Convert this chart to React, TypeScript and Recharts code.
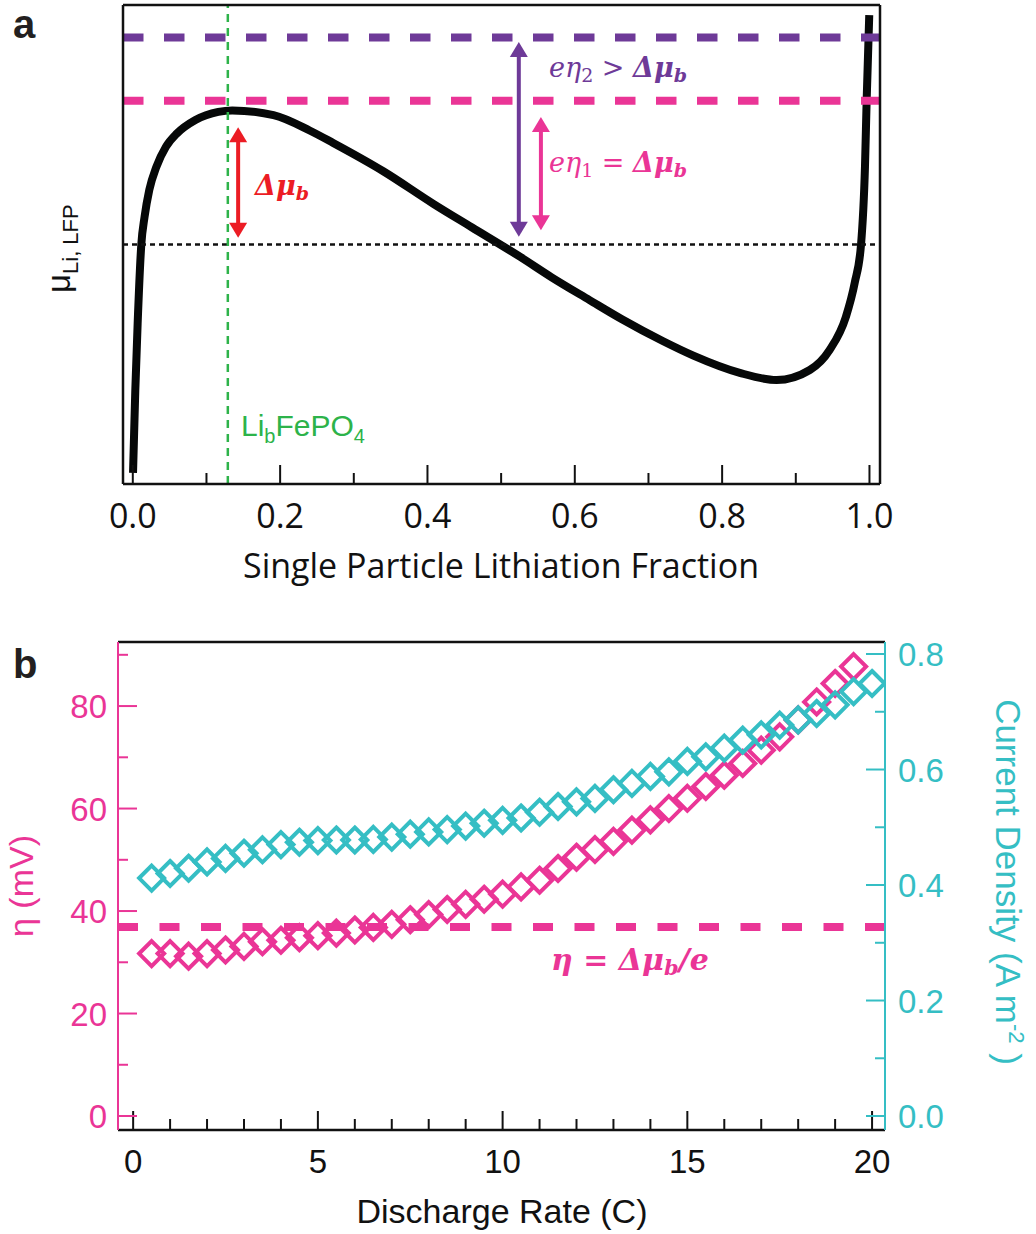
import React from 'react';
import { ComposedChart, Line, XAxis, YAxis, ReferenceLine } from 'recharts';

// ---------- Panel a: Li chemical potential of a single LFP particle ----------
const lithiationFraction = [
  0.0003, 0.0034, 0.0066, 0.0115, 0.016, 0.0224, 0.032, 0.045, 0.06, 0.085, 0.116, 0.135, 0.191, 0.24,
  0.272, 0.34, 0.408, 0.46, 0.526, 0.568, 0.62, 0.664, 0.72, 0.761, 0.824, 0.874, 0.919, 0.946,
  0.968, 0.98, 0.9885, 0.9939, 0.9962, 0.9997,
];
const muLiLFP = [
  2.3, 19.6, 33.6, 49.9, 55.8, 61.4, 66.2, 70.4, 73.2, 76.0, 77.7, 78.0, 77.0, 73.8,
  71.2, 65.3, 58.5, 53.6, 47.4, 43.2, 38.4, 34.4, 29.8, 26.8, 23.2, 21.7, 23.8, 28.0,
  34.9, 42.0, 49.9, 66.2, 80.2, 97.9,
];
const fractionTicks = [0, 0.1, 0.2, 0.3, 0.4, 0.5, 0.6, 0.7, 0.8, 0.9, 1.0];
const fractionMajorTicks = [0, 0.2, 0.4, 0.6, 0.8, 1.0];
const fractionDomain = [-0.0133, 1.0143];
const muDomain = [0, 100];

const muOverpotential2 = 93.2; // e·η2 level
const muBarrierTop = 80.0; // e·η1 = Δμb level
const muEquilibrium = 50.0; // equilibrium potential
const spinodalFraction = 0.129; // Li_b FePO4

const barrierArrow = { x: 0.143, from: 51.4, to: 74.5 };
const eta2Arrow = { x: 0.524, from: 51.6, to: 92.3 };
const eta1Arrow = { x: 0.554, from: 53.0, to: 76.6 };

// ---------- Panel b: overpotential and current density vs discharge rate ----------
const dischargeRate = [
  0.5, 1, 1.5, 2, 2.5, 3, 3.5, 4, 4.5, 5, 5.5, 6, 6.5, 7, 7.5, 8, 8.5, 9, 9.5, 10,
  10.5, 11, 11.5, 12, 12.5, 13, 13.5, 14, 14.5, 15, 15.5, 16, 16.5, 17, 17.5, 18, 18.5, 19, 19.5, 20,
];
const etaMV = [
  31.7, 31.7, 31.2, 31.7, 32.4, 33.1, 34.0, 34.3, 34.8, 35.2, 35.7, 36.3, 36.8, 37.4, 38.3, 39.3,
  40.3, 41.3, 42.3, 43.3, 44.7, 46.0, 48.3, 50.5, 52.0, 53.6, 55.8, 57.8, 60.0, 62.0, 64.3, 66.5,
  68.8, 71.4, 74.0, 77.3, 80.8, 84.4, 87.7,
];
const currentDensity = [
  0.412, 0.42, 0.429, 0.44, 0.446, 0.455, 0.461, 0.47, 0.474, 0.477, 0.478, 0.478, 0.479, 0.483,
  0.488, 0.492, 0.496, 0.502, 0.507, 0.512, 0.516, 0.526, 0.536, 0.544, 0.55, 0.565, 0.576, 0.588,
  0.596, 0.614, 0.622, 0.637, 0.651, 0.66, 0.677, 0.686, 0.697, 0.712, 0.735, 0.749,
];
const etaBarrier = 36.9; // η = Δμb / e
const rateTicks = [0, 1, 2, 3, 4, 5, 6, 7, 8, 9, 10, 11, 12, 13, 14, 15, 16, 17, 18, 19, 20];
const rateMajorTicks = [0, 5, 10, 15, 20];
const etaTicks = [0, 10, 20, 30, 40, 50, 60, 70, 80, 90];
const etaMajorTicks = [0, 20, 40, 60, 80];
const jTicks = [0, 0.1, 0.2, 0.3, 0.4, 0.5, 0.6, 0.7, 0.8];
const jMajorTicks = [0, 0.2, 0.4, 0.6, 0.8];
const rateDomain = [-0.41, 20.35];
const etaDomain = [-2.73, 92.5];
const jDomain = [-0.0242, 0.8208];

const PINK = '#EA3596';
const CYAN = '#35BEC4';
const PURPLE = '#6E3A98';
const RED = '#EC1C24';
const GREEN = '#2DB34A';

const SANS = '"Liberation Sans", Arial, sans-serif';
const MYRIAD = '"Open Sans", sans-serif';
const MATH = '"DejaVu Serif", serif';

const curveRows = lithiationFraction.map((f, i) => ({ f, mu: muLiLFP[i] }));
const etaRows = etaMV.map((v, i) => ({ rate: dischargeRate[i], eta: v }));
const jRows = currentDensity.map((v, i) => ({ rate: dischargeRate[i], j: v }));

const isIn = (list: number[], v: number) => list.some((m) => Math.abs(m - v) < 1e-9);

// Inward ticks with labels for a bottom axis
const bottomTick =
  (majors: number[], fmt: (v: number) => string, font: string, size: number, color: string, labelDy: number) =>
  (props: any) => {
    const { x, y, payload } = props;
    const major = isIn(majors, payload.value);
    return (
      <g>
        <line x1={x} y1={y} x2={x} y2={y - (major ? 19 : 11)} stroke={color} strokeWidth={2} />
        {major && (
          <text x={x} y={y + labelDy} textAnchor="middle" fontFamily={font} fontSize={size} fill={color}>
            {fmt(payload.value)}
          </text>
        )}
      </g>
    );
  };

const sideTick =
  (side: 'left' | 'right', majors: number[], fmt: (v: number) => string, color: string) =>
  (props: any) => {
    const { x, y, payload } = props;
    const major = isIn(majors, payload.value);
    const dir = side === 'left' ? 1 : -1;
    return (
      <g>
        <line x1={x} y1={y} x2={x + dir * (major ? 19 : 10)} y2={y} stroke={color} strokeWidth={2} />
        {major && (
          <text
            x={side === 'left' ? x - 11 : x + 13}
            y={y + 12}
            textAnchor={side === 'left' ? 'end' : 'start'}
            fontFamily={SANS}
            fontSize={33}
            fill={color}
          >
            {fmt(payload.value)}
          </text>
        )}
      </g>
    );
  };

// Vertical double-headed arrow
const doubleArrow = (color: string) => (props: any) => {
  const { x1, y1, y2 } = props;
  const head = 15;
  const half = 9;
  const top = Math.min(y1, y2);
  const bot = Math.max(y1, y2);
  return (
    <g>
      <line x1={x1} y1={top + head - 1} x2={x1} y2={bot - head + 1} stroke={color} strokeWidth={4} />
      <polygon points={`${x1},${top} ${x1 - half},${top + head} ${x1 + half},${top + head}`} fill={color} />
      <polygon points={`${x1},${bot} ${x1 - half},${bot - head} ${x1 + half},${bot - head}`} fill={color} />
    </g>
  );
};

const diamondDot = (color: string) => (props: any) => {
  const { cx, cy, index } = props;
  if (cx == null || cy == null) return <g key={`e-${index}`} />;
  const r = 12.5;
  return (
    <path
      key={`d-${index}`}
      d={`M${cx},${cy - r} L${cx + r},${cy} L${cx},${cy + r} L${cx - r},${cy} Z`}
      fill="none"
      stroke={color}
      strokeWidth={4}
    />
  );
};

function PanelA() {
  return (
    <ComposedChart
      width={1036}
      height={600}
      data={curveRows}
      margin={{ top: 5, right: 156, bottom: 76, left: 83 }}
    >
      <XAxis
        dataKey="f"
        type="number"
        domain={fractionDomain}
        allowDataOverflow
        ticks={fractionTicks}
        interval={0}
        height={40}
        tickSize={0}
        tickMargin={0}
        tickLine={false}
        axisLine={{ stroke: '#111', strokeWidth: 2.5 }}
        tick={bottomTick(fractionMajorTicks, (v) => v.toFixed(1), MYRIAD, 34, '#111', 44)}
      />
      <YAxis
        type="number"
        domain={muDomain}
        allowDataOverflow
        width={40}
        tick={false}
        tickLine={false}
        axisLine={{ stroke: '#111', strokeWidth: 2.5 }}
      />
      <Line
        dataKey="mu"
        type="monotone"
        stroke="#060808"
        strokeWidth={8}
        dot={false}
        isAnimationActive={false}
      />
      <ReferenceLine y={muEquilibrium} stroke="#111" strokeWidth={2.5} strokeDasharray="5 4" />
      <ReferenceLine y={muOverpotential2} stroke={PURPLE} strokeWidth={8} strokeDasharray="20.5 20.5" />
      <ReferenceLine y={muBarrierTop} stroke={PINK} strokeWidth={8} strokeDasharray="20.5 20.5" />
      <ReferenceLine x={spinodalFraction} stroke={GREEN} strokeWidth={2.5} strokeDasharray="8 6" />
      <ReferenceLine x={fractionDomain[1]} stroke="#111" strokeWidth={2.5} />
      <ReferenceLine y={muDomain[1]} stroke="#111" strokeWidth={2.5} />
      <ReferenceLine
        segment={[{ x: barrierArrow.x, y: barrierArrow.from }, { x: barrierArrow.x, y: barrierArrow.to }]}
        shape={doubleArrow(RED)}
      />
      <ReferenceLine
        segment={[{ x: eta2Arrow.x, y: eta2Arrow.from }, { x: eta2Arrow.x, y: eta2Arrow.to }]}
        shape={doubleArrow(PURPLE)}
      />
      <ReferenceLine
        segment={[{ x: eta1Arrow.x, y: eta1Arrow.from }, { x: eta1Arrow.x, y: eta1Arrow.to }]}
        shape={doubleArrow(PINK)}
      />
    </ComposedChart>
  );
}

function PanelB() {
  return (
    <ComposedChart width={1036} height={634} margin={{ top: 42, right: 91, bottom: 64, left: 58 }}>
      <XAxis
        dataKey="rate"
        type="number"
        domain={rateDomain}
        allowDataOverflow
        ticks={rateTicks}
        interval={0}
        height={40}
        tickSize={0}
        tickMargin={0}
        tickLine={false}
        axisLine={{ stroke: '#111', strokeWidth: 2.5 }}
        tick={bottomTick(rateMajorTicks, (v) => String(v), SANS, 33, '#111', 43)}
      />
      <YAxis
        yAxisId="left"
        orientation="left"
        type="number"
        domain={etaDomain}
        allowDataOverflow
        ticks={etaTicks}
        interval={0}
        width={60}
        tickSize={0}
        tickMargin={0}
        tickLine={false}
        axisLine={{ stroke: PINK, strokeWidth: 2 }}
        tick={sideTick('left', etaMajorTicks, (v) => String(v), PINK)}
      />
      <YAxis
        yAxisId="right"
        orientation="right"
        type="number"
        domain={jDomain}
        allowDataOverflow
        ticks={jTicks}
        interval={0}
        width={60}
        tickSize={0}
        tickMargin={0}
        tickLine={false}
        axisLine={{ stroke: CYAN, strokeWidth: 2 }}
        tick={sideTick('right', jMajorTicks, (v) => v.toFixed(1), CYAN)}
      />
      <ReferenceLine yAxisId="left" y={etaDomain[1]} stroke="#111" strokeWidth={2.5} />
      <ReferenceLine yAxisId="left" y={etaBarrier} stroke={PINK} strokeWidth={8} strokeDasharray="20 21.5" />
      <Line
        data={etaRows}
        dataKey="eta"
        yAxisId="left"
        stroke="none"
        dot={diamondDot(PINK)}
        activeDot={false}
        isAnimationActive={false}
      />
      <Line
        data={jRows}
        dataKey="j"
        yAxisId="right"
        stroke="none"
        dot={diamondDot(CYAN)}
        activeDot={false}
        isAnimationActive={false}
      />
    </ComposedChart>
  );
}

function Annotations() {
  return (
    <svg
      width={1036}
      height={1234}
      style={{ position: 'absolute', left: 0, top: 0, pointerEvents: 'none' }}
    >
      {/* panel letters */}
      <text x={13} y={38} fontFamily={SANS} fontWeight="bold" fontSize={40} fill="#231f20">a</text>
      <text x={13} y={678} fontFamily={SANS} fontWeight="bold" fontSize={40} fill="#231f20">b</text>

      {/* panel a texts */}
      <text transform="translate(70,293) rotate(-90)" fontFamily={SANS} fontSize={33} fill="#111">
        μ<tspan fontSize={22} dy={8}>Li, LFP</tspan>
      </text>
      <text x={501} y={578} textAnchor="middle" fontFamily={MYRIAD} fontSize={34} fill="#111">
        Single Particle Lithiation Fraction
      </text>
      <text x={241} y={436} fontFamily={SANS} fontSize={30} fill={GREEN}>
        Li<tspan fontSize={20} dy={7}>b</tspan>
        <tspan dy={-7}>FePO</tspan>
        <tspan fontSize={20} dy={7}>4</tspan>
      </text>
      <text x={255} y={195} fontFamily={MATH} fontSize={27} fontWeight="bold" fontStyle="italic" fill={RED}>
        Δμ<tspan fontSize={19} dy={5}>b</tspan>
      </text>
      <text x={549} y={77} fontFamily={MATH} fontSize={27} fontStyle="italic" fill={PURPLE}>
        eη<tspan fontSize={19} dy={5} fontStyle="normal">2</tspan>
        <tspan dy={-5} fontStyle="normal"> &gt; </tspan>
        <tspan fontWeight="bold">Δμ</tspan>
        <tspan fontWeight="bold" fontSize={19} dy={5}>b</tspan>
      </text>
      <text x={549} y={172} fontFamily={MATH} fontSize={27} fontStyle="italic" fill={PINK}>
        eη<tspan fontSize={19} dy={5} fontStyle="normal">1</tspan>
        <tspan dy={-5} fontStyle="normal"> = </tspan>
        <tspan fontWeight="bold">Δμ</tspan>
        <tspan fontWeight="bold" fontSize={19} dy={5}>b</tspan>
      </text>

      {/* panel b texts */}
      <text x={551} y={970} fontFamily={MATH} fontSize={30} fontWeight="bold" fontStyle="italic" fill={PINK}>
        η<tspan fontStyle="normal"> = </tspan>Δμ<tspan fontSize={21} dy={5}>b</tspan>
        <tspan dy={-5}>/e</tspan>
      </text>
      <text transform="translate(33,886) rotate(-90)" textAnchor="middle" fontFamily={SANS} fontSize={34} fill={PINK}>
        η (mV)
      </text>
      <text transform="translate(996,882) rotate(90)" textAnchor="middle" fontFamily={SANS} fontSize={35} fill={CYAN}>
        Current Density (A m<tspan fontSize={22} dy={-13}>-2</tspan>
        <tspan dy={13}> )</tspan>
      </text>
      <text x={502} y={1223} textAnchor="middle" fontFamily={SANS} fontSize={34} fill="#111">
        Discharge Rate (C)
      </text>
    </svg>
  );
}

export default function App() {
  return (
    <div style={{ position: 'absolute', left: 0, top: 0, width: 1036, height: 1234, background: '#fff' }}>
      <div style={{ position: 'absolute', left: 0, top: 0 }}>
        <PanelA />
      </div>
      <div style={{ position: 'absolute', left: 0, top: 600 }}>
        <PanelB />
      </div>
      <Annotations />
    </div>
  );
}
